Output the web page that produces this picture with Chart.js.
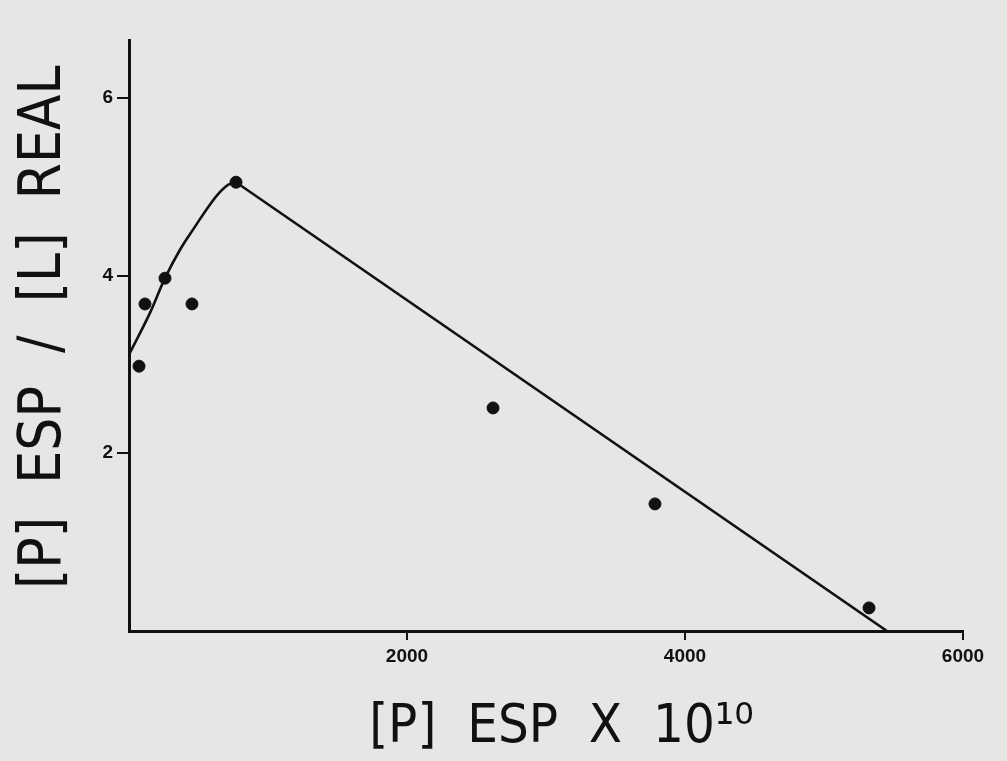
<!DOCTYPE html>
<html>
<head>
<meta charset="utf-8">
<script src="https://cdn.jsdelivr.net/npm/chart.js@4.4.0/dist/chart.umd.min.js"></script>
<style>
  html, body { margin: 0; padding: 0; background: #e6e6e4; }
  #wrap { width: 1007px; height: 761px; position: relative; }
</style>
</head>
<body>
<div id="wrap"><canvas id="espChart"></canvas></div>
<script>
// === Data ===
// measured points
const pointX = [72, 115, 259, 453, 770, 2619, 3784, 5324];
const pointY = [2.98, 3.68, 3.97, 3.68, 5.05, 2.51, 1.43, 0.26];

// hand-drawn fit: rising curve ...
const curveX = [0, 151, 259, 367, 475, 583, 655, 712, 770];
const curveY = [3.11, 3.58, 3.97, 4.29, 4.55, 4.80, 4.94, 5.02, 5.05];
// ... then a straight line down to the axis
const lineX = [770, 5453];
const lineY = [5.05, 0];

const xTicks = [2000, 4000, 6000];
const yTicks = [2, 4, 6];

const titleFont = "'Liberation Sans Narrow', 'DejaVu Sans Condensed', 'Roboto', sans-serif";
const tickFont = "'Liberation Sans', Arial, sans-serif";

const toXY = (xs, ys) => xs.map((x, i) => ({ x: x, y: ys[i] }));

const ctx = document.getElementById("espChart").getContext("2d");

new Chart(ctx, {
  type: "scatter",
  data: {
    datasets: [
      {
        label: "points",
        data: toXY(pointX, pointY),
        backgroundColor: "#111",
        borderColor: "#111",
        pointRadius: 6,
        showLine: false
      },
      {
        label: "curve",
        data: toXY(curveX, curveY),
        showLine: true,
        borderColor: "#111",
        borderWidth: 2.6,
        pointRadius: 0,
        tension: 0.4
      },
      {
        label: "line",
        data: toXY(lineX, lineY),
        showLine: true,
        borderColor: "#111",
        borderWidth: 2.6,
        pointRadius: 0,
        tension: 0
      }
    ]
  },
  options: {
    responsive: true,
    maintainAspectRatio: false,
    animation: false,
    layout: { padding: { top: 40, right: 44, left: 0, bottom: 0 } },
    plugins: {
      legend: { display: false },
      tooltip: { enabled: false }
    },
    scales: {
      x: {
        type: "linear",
        min: 0,
        max: 6000,
        afterFit: s => { s.height = 130; },
        afterBuildTicks: s => { s.ticks = xTicks.map(v => ({ value: v })); },
        grid: { display: true, drawOnChartArea: false, drawTicks: true, tickLength: 9, color: "#111", lineWidth: 2 },
        border: { display: true, color: "#111", width: 3 },
        ticks: {
          color: "#111", padding: 5, maxRotation: 0,
          font: { family: tickFont, size: 19, weight: "bold" },
          callback: v => String(v)
        },
        title: {
          display: true,
          text: "  [P]  ESP  X  10\u00b9\u2070",
          color: "#111",
          padding: { top: 0, bottom: 1 },
          font: { family: titleFont, size: 54, weight: "normal" }
        }
      },
      y: {
        type: "linear",
        min: 0,
        max: 6.65,
        afterFit: s => { s.width = 129; },
        afterBuildTicks: s => { s.ticks = yTicks.map(v => ({ value: v })); },
        grid: { display: true, drawOnChartArea: false, drawTicks: true, tickLength: 12, color: "#111", lineWidth: 2 },
        border: { display: true, color: "#111", width: 3 },
        ticks: {
          color: "#111", padding: 4,
          font: { family: tickFont, size: 19, weight: "bold" },
          callback: v => String(v)
        },
        title: {
          display: true,
          text: " [P]  ESP  /  [L]  REAL",
          color: "#111",
          padding: { top: 10, bottom: 0 },
          font: { family: titleFont, size: 58, weight: "normal" }
        }
      }
    }
  }
});
</script>
</body>
</html>
